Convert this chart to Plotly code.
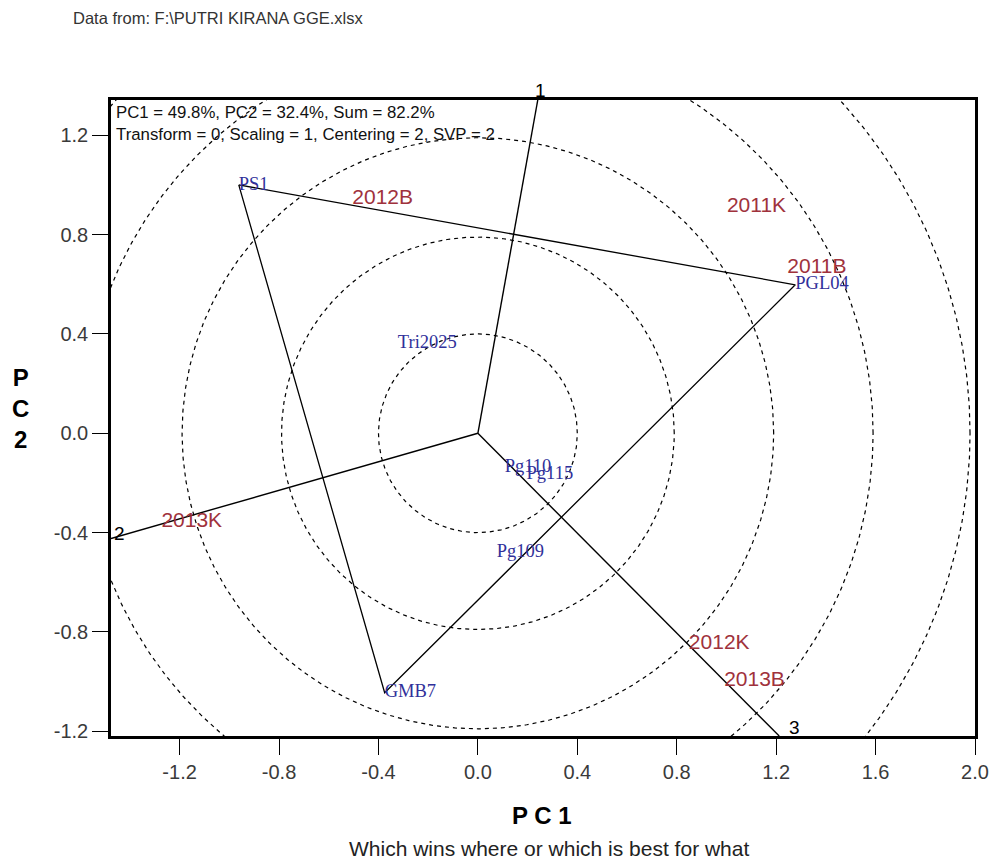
import numpy as np
import plotly.graph_objects as go

# ---------------- data ----------------
genotypes = ["PS1", "PGL04", "GMB7", "Tri2025", "Pg110", "Pg115", "Pg109"]
gen_pc1 = [-0.962, 1.277, -0.375, -0.322, 0.108, 0.196, 0.076]
gen_pc2 = [1.000, 0.598, -1.045, 0.360, -0.138, -0.166, -0.480]

environments = ["2011B", "2011K", "2012B", "2012K", "2013B", "2013K"]
env_pc1 = [1.364, 1.121, -0.383, 0.971, 1.113, -1.151]
env_pc2 = [0.666, 0.911, 0.943, -0.846, -0.995, -0.356]

hull_order = ["PS1", "PGL04", "GMB7"]          # polygon vertices (winners)
ray_sides = [("PS1", "PGL04"), ("GMB7", "PS1"), ("PGL04", "GMB7")]  # sectors 1,2,3
ray_names = ["1", "2", "3"]
circle_radii = [0.40, 0.79, 1.19, 1.59, 1.98]

x_ticks = [-1.2, -0.8, -0.4, 0.0, 0.4, 0.8, 1.2, 1.6, 2.0]
y_ticks = [-1.2, -0.8, -0.4, 0.0, 0.4, 0.8, 1.2]
x_range = [-1.476, 2.0]
y_range = [-1.219, 1.342]

header_text = "Data from: F:\\PUTRI KIRANA GGE.xlsx"
info_text = ("PC1 = 49.8%, PC2 = 32.4%, Sum = 82.2%<br>"
             "Transform = 0, Scaling = 1, Centering = 2, SVP = 2")
footer_text = "Which wins where or which is best for what"

# ---------------- styling ----------------
SANS = "Liberation Sans, Arial, sans-serif"
SERIF = "Liberation Serif, Times New Roman, serif"
GEN_COLOR = "#30309a"
ENV_COLOR = "#a0323c"

fig = go.Figure()

# concentric dashed circles
theta = np.linspace(0, 2 * np.pi, 721)
for r in circle_radii:
    fig.add_trace(go.Scatter(
        x=r * np.cos(theta), y=r * np.sin(theta), mode="lines",
        line=dict(color="black", width=1.2, dash="4px,4px"),
        hoverinfo="skip", showlegend=False))

gpos = {g: (x, y) for g, x, y in zip(genotypes, gen_pc1, gen_pc2)}

# polygon
px = [gpos[g][0] for g in hull_order] + [gpos[hull_order[0]][0]]
py = [gpos[g][1] for g in hull_order] + [gpos[hull_order[0]][1]]
fig.add_trace(go.Scatter(x=px, y=py, mode="lines",
                         line=dict(color="black", width=1.3),
                         hoverinfo="skip", showlegend=False))

# rays perpendicular to polygon sides, extended to plot border
annotations = []
for (a, b), name in zip(ray_sides, ray_names):
    A = np.array(gpos[a]); B = np.array(gpos[b])
    d = B - A
    t = -A.dot(d) / d.dot(d)
    foot = A + t * d
    u = foot / np.linalg.norm(foot)
    s_list = []
    for comp, lo, hi in ((0, x_range[0], x_range[1]), (1, y_range[0], y_range[1])):
        if u[comp] > 0:
            s_list.append(hi / u[comp])
        elif u[comp] < 0:
            s_list.append(lo / u[comp])
    s = min(s_list)
    end = u * s
    fig.add_trace(go.Scatter(x=[0, end[0]], y=[0, end[1]], mode="lines",
                             line=dict(color="black", width=1.4),
                             hoverinfo="skip", showlegend=False))
    if abs(end[1] - y_range[1]) < 1e-9:
        xa, ya, xs, ys = "center", "bottom", 3, -3
    elif abs(end[0] - x_range[0]) < 1e-9:
        xa, ya, xs, ys = "left", "middle", 1, 5
    else:
        xa, ya, xs, ys = "left", "bottom", 8, -4
    annotations.append(dict(x=end[0], y=end[1], xref="x", yref="y", text=name,
                            showarrow=False, xanchor=xa, yanchor=ya,
                            xshift=xs, yshift=ys,
                            font=dict(family=SANS, size=19, color="black")))

# genotype labels (blue serif)
fig.add_trace(go.Scatter(x=gen_pc1, y=gen_pc2, mode="text", text=genotypes,
                         textposition="middle right",
                         textfont=dict(family=SERIF, size=18.5, color=GEN_COLOR),
                         hoverinfo="text", showlegend=False))

# environment labels (red sans)
fig.add_trace(go.Scatter(x=env_pc1, y=env_pc2, mode="text", text=environments,
                         textposition="middle center",
                         textfont=dict(family=SANS, size=21, color=ENV_COLOR),
                         hoverinfo="text", showlegend=False))

def fmt(v):
    return f"{v:.1f}"

axis_common = dict(showgrid=False, zeroline=False, showline=True, mirror=True,
                   linecolor="black", linewidth=2.5, ticks="outside",
                   ticklen=16, tickwidth=1.4, tickcolor="black",
                   automargin=False, ticklabeloverflow="allow",
                   tickfont=dict(family=SANS, size=20, color="#3a3a3a"))

fig.update_xaxes(range=x_range, tickvals=x_ticks,
                 ticktext=[fmt(v) for v in x_ticks], **axis_common)
fig.update_yaxes(range=y_range, tickvals=y_ticks,
                 ticktext=[fmt(v) for v in y_ticks], **axis_common)

# figure fills the window (body margin removed in post_script)
W, H = 992, 865
PL, PR, PT, PB = 111, 975, 100, 736          # plot area in window pixels
L, R, T, B = PL, W - PR, PT, H - PB
pw, ph = PR - PL, PB - PT

def paper_x(pix):
    return (pix - PL) / pw

def paper_y(pix):
    return (PB - pix) / ph

annotations += [
    dict(x=paper_x(218), y=paper_y(18), xref="paper", yref="paper",
         text=header_text, showarrow=False, xanchor="center", yanchor="middle",
         font=dict(family=SANS, size=16.5, color="#333333")),
    dict(x=paper_x(114), y=paper_y(101), xref="paper", yref="paper",
         text=info_text, showarrow=False, xanchor="left", yanchor="top",
         align="left", font=dict(family=SANS, size=16.8, color="#111111")),
    dict(x=paper_x(542), y=paper_y(815), xref="paper", yref="paper",
         text="<b>P C 1</b>", showarrow=False, xanchor="center", yanchor="middle",
         font=dict(family=SANS, size=24, color="black")),
    dict(x=paper_x(20), y=paper_y(409), xref="paper", yref="paper",
         text="<b>P<br>C<br>2</b>", showarrow=False, xanchor="center",
         yanchor="middle", align="center",
         font=dict(family=SANS, size=24, color="black")),
    dict(x=paper_x(549), y=paper_y(848), xref="paper", yref="paper",
         text=footer_text, showarrow=False, xanchor="center", yanchor="middle",
         font=dict(family=SANS, size=21, color="#222222")),
]

fig.update_layout(width=W, height=H, margin=dict(l=L, r=R, t=T, b=B),
                  paper_bgcolor="white", plot_bgcolor="white",
                  showlegend=False, annotations=annotations)

fig.write_html("out.html", config={"displayModeBar": False},
               post_script="document.body.style.margin='0px';"
                           "document.body.style.overflow='hidden';")
